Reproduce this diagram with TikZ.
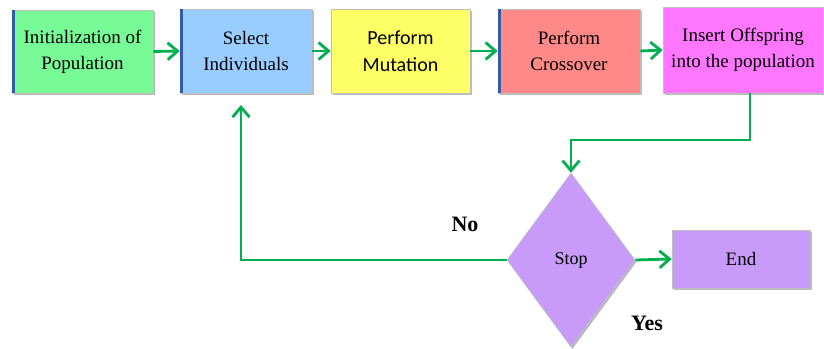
\documentclass[tikz,border=0pt]{standalone}
\usepackage{fontspec}
\setmainfont{Liberation Serif}
\newfontfamily\calfont{Carlito}
\usetikzlibrary{arrows.meta,shapes.geometric,shadows}
\definecolor{arrgreen}{RGB}{0,176,80}
\definecolor{bxgreen}{RGB}{120,250,150}
\definecolor{bxblue}{RGB}{153,204,255}
\definecolor{bxyellow}{RGB}{255,255,102}
\definecolor{bxred}{RGB}{255,136,136}
\definecolor{bxmag}{RGB}{255,119,255}
\definecolor{bxpurple}{RGB}{200,155,250}
\definecolor{strip}{RGB}{50,90,170}
\tikzset{
  box/.style={rectangle, draw=black!25, line width=0.6pt, align=center, inner sep=0pt,
    drop shadow={shadow xshift=1.5pt, shadow yshift=-2pt, fill=black!45, opacity=0.6},
    font=\fontsize{19}{26}\selectfont},
  flow/.style={draw=arrgreen, line width=2.8pt, -{Straight Barb[length=10pt,width=17pt]}},
  lbl/.style={font=\bfseries\fontsize{22}{26}\selectfont}
}
\begin{document}
\begin{tikzpicture}[x=1pt,y=-1pt]
\useasboundingbox (0,0) rectangle (824,348);
% boxes
\node[box, fill=bxgreen, minimum width=141pt, minimum height=83pt] (init) at (82.5,51.5) {Initialization of\\Population};
\node[box, fill=bxblue, minimum width=132pt, minimum height=84pt] (sel) at (246,51) {Select\\Individuals};
\node[box, fill=bxyellow, minimum width=139pt, minimum height=84pt, font=\calfont\fontsize{20}{27}\selectfont] (mut) at (400.5,51) {Perform\\Mutation};
\node[box, fill=bxred, minimum width=142pt, minimum height=84pt] (cross) at (569,51) {Perform\\Crossover};
\node[box, fill=bxmag, minimum width=160pt, minimum height=86pt] (ins) at (743,50) {Insert Offspring\\into the population};
% left strips
\fill[strip] (init.north west) rectangle ([xshift=3pt]init.south west);
\fill[strip] (sel.north west) rectangle ([xshift=3pt]sel.south west);
\fill[strip] (cross.north west) rectangle ([xshift=3pt]cross.south west);
% decision
\node[diamond, draw=black!25, line width=0.6pt, fill=bxpurple, minimum width=128pt, minimum height=174pt, inner sep=0pt,
  drop shadow={shadow xshift=1.5pt, shadow yshift=-2pt, fill=black!45, opacity=0.6},
  font=\fontsize{18}{20}\selectfont] (stop) at (571,260) {Stop};
\node[box, fill=bxpurple, minimum width=138pt, minimum height=58pt, font=\fontsize{19}{22}\selectfont] (end) at (741,259) {End};
% arrows
\draw[flow] (init.east) -- (sel.west);
\draw[flow] (sel.east) -- (mut.west);
\draw[flow] (mut.east) -- (cross.west);
\draw[flow] (cross.east) -- (ins.west);
\coordinate (c1) at (750,140);
\coordinate (c2) at (571,140);
\draw[flow] (ins.south -| c1) -- (c1) -- (c2) -- (stop.north);
\coordinate (c3) at (241,260);
\coordinate (c4) at (241,105);
\draw[flow] (stop.west) -- (c3) -- (c4);
\draw[flow] (stop.east) -- (end.west);
% labels
\node[lbl] (no) at (465,224) {No};
\node[lbl] (yes) at (647,323) {Yes};
\end{tikzpicture}
\end{document}
